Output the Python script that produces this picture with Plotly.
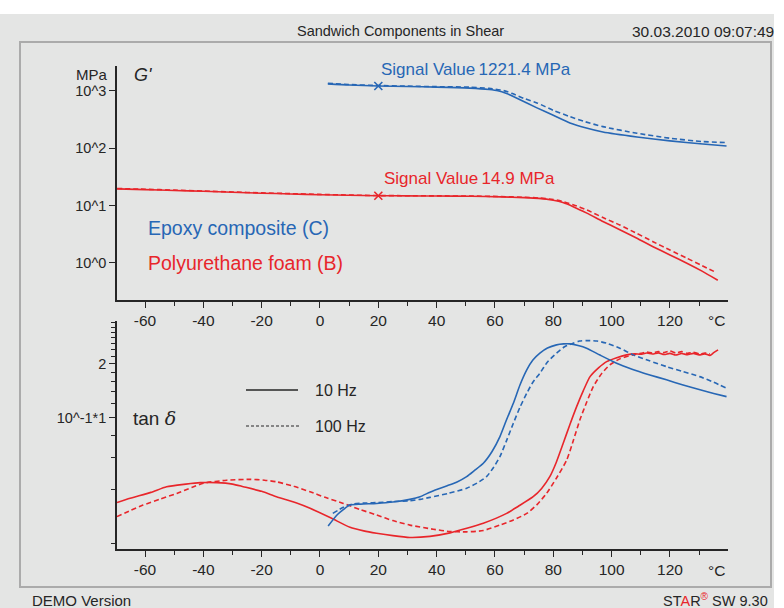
import plotly.graph_objects as go

# ---------------------------------------------------------------- data
# Storage modulus G' [MPa] versus temperature [°C]
t_g_epoxy_10 = [2.7, 10, 20, 30, 40, 51.4, 58, 61, 64, 67, 74.4, 80, 85.7, 91, 97, 108.7, 120, 131.3, 139.4]
g_epoxy_10 = [1330, 1270, 1221.4, 1195, 1170, 1120, 1060, 1010, 900, 770, 507, 376, 277, 228, 193, 158, 135, 119, 110]
t_g_epoxy_100 = [2.7, 10, 20, 30, 40, 51.4, 58, 63, 66, 70, 74.4, 80, 85.7, 91, 97, 108.7, 120, 131.3, 139.4]
g_epoxy_100 = [1360, 1295, 1245, 1215, 1190, 1165, 1110, 1016, 900, 740, 620, 460, 357, 290, 239, 183, 150, 131, 126]

t_g_foam_10 = [-69.6, -60, -50, -40, -30, -20, -10, 0, 10, 20, 30, 40, 52, 62, 70, 75, 80, 83.3, 87, 91.5,
               97, 102.8, 108, 114.2, 120, 125.8, 131, 136.4]
g_foam_10 = [19.6, 19.0, 18.4, 17.8, 17.1, 16.5, 16.0, 15.5, 15.2, 14.9, 14.8, 14.7, 14.6, 14.2, 13.8, 13.4,
             12.4, 11.3, 9.5, 7.4, 5.3, 3.8, 2.8, 1.92, 1.38, 0.99, 0.72, 0.50]
t_g_foam_100 = [-69.6, -60, -50, -40, -30, -20, -10, 0, 10, 20, 30, 40, 52, 62, 70, 75, 80, 83.3, 87, 91.5,
                97, 102.8, 108, 114.2, 120, 125.8, 131, 135.9]
g_foam_100 = [19.9, 19.3, 18.7, 18.0, 17.3, 16.7, 16.2, 15.7, 15.3, 15.0, 14.9, 14.8, 14.7, 14.4, 14.0, 13.6,
              12.8, 11.8, 10.3, 8.4, 6.2, 4.6, 3.4, 2.35, 1.68, 1.21, 0.90, 0.68]

# Signal values read at 20 °C
cursor_t = 20
cursor_epoxy = 1221.4
cursor_foam = 14.9

# Loss factor tan delta versus temperature
t_tan_foam_10 = [-69.6, -65.1, -58, -52.6, -46, -41.1, -35.4, -30, -26.3, -20, -14.9, -8, -3.4, 4.0, 10.3, 15,
                 19.4, 25, 30.8, 37.7, 44.6, 50, 56, 64, 68, 73.1, 76, 78.8, 81, 83.4, 85.7, 88, 90.3, 92.6,
                 95.5, 98.3, 101.5, 105.1, 108, 110, 112, 114, 116, 118, 120, 122, 124, 126, 128, 130, 132,
                 133.7, 135, 136.5]
tan_foam_10 = [0.0338, 0.0357, 0.0385, 0.0414, 0.0428, 0.0436, 0.0436, 0.0428, 0.0414, 0.0390, 0.0364, 0.0336,
               0.0314, 0.0276, 0.0246, 0.0235, 0.0228, 0.0221, 0.0216, 0.0219, 0.0229, 0.0242, 0.0259, 0.0294,
               0.0322, 0.0364, 0.0405, 0.0471, 0.0565, 0.0723, 0.0920, 0.1156, 0.1420, 0.1699, 0.1900, 0.2060,
               0.2160, 0.2245, 0.2275, 0.2262, 0.2298, 0.2270, 0.2305, 0.2255, 0.2290, 0.2240, 0.2285, 0.2250,
               0.2290, 0.2245, 0.2275, 0.2230, 0.2310, 0.2393]
t_tan_foam_100 = [-69.6, -65, -60.7, -55, -49.1, -44, -40, -32, -24, -19, -14.9, -9, -3.4, 2, 8, 14, 19.4, 25,
                  30.8, 38.8, 44.6, 50.3, 56, 61.7, 66.3, 70.9, 74.5, 77.7, 81, 84.6, 87, 89.1, 91.5, 93.7,
                  96.5, 99.4, 103, 107.4, 110, 112, 114, 116, 118, 120, 122, 124, 126, 128, 130.2, 132, 133.7]
tan_foam_100 = [0.0282, 0.0305, 0.0327, 0.0352, 0.0380, 0.0410, 0.0433, 0.0450, 0.0455, 0.0450, 0.0441, 0.0416,
                0.0388, 0.0360, 0.0334, 0.0308, 0.0288, 0.0268, 0.0253, 0.0240, 0.0233, 0.0232, 0.0236, 0.0253,
                0.0270, 0.0294, 0.0330, 0.0380, 0.0460, 0.0583, 0.0760, 0.0975, 0.1230, 0.1494, 0.1760, 0.1975,
                0.2140, 0.2245, 0.2290, 0.2330, 0.2300, 0.2345, 0.2310, 0.2360, 0.2300, 0.2340, 0.2290, 0.2320,
                0.2274, 0.2300, 0.2274]
t_tan_epoxy_10 = [2.8, 6, 10.3, 14, 19.4, 25, 30.8, 34.3, 37.7, 40.5, 43.4, 47, 50.3, 53, 56, 59, 61.7, 64,
                  66.3, 68.6, 70.9, 73, 75.4, 78, 81.1, 83.5, 85.7, 88.5, 91.4, 96, 101.7, 107, 113.1, 118.8,
                  124.5, 130, 135, 139.4]
tan_epoxy_10 = [0.0250, 0.0290, 0.0327, 0.0331, 0.0334, 0.0340, 0.0352, 0.0364, 0.0386, 0.0402, 0.0418, 0.0440,
                0.0471, 0.0510, 0.0559, 0.0650, 0.0787, 0.0980, 0.1207, 0.1530, 0.1852, 0.2100, 0.2295, 0.2450,
                0.2553, 0.2585, 0.2585, 0.2530, 0.2446, 0.2240, 0.2018, 0.1870, 0.1737, 0.1630, 0.1527, 0.1440,
                0.1370, 0.1314]
t_tan_epoxy_100 = [4.4, 8, 11.3, 16, 20, 25, 30.8, 34.3, 37.7, 44, 50.3, 54, 57.1, 59.5, 61.7, 64, 66.3, 68.6,
                   70.9, 73, 75.4, 78, 81.1, 84, 86.8, 89, 91.4, 95, 98.3, 103, 107.4, 113, 118.8, 124.5, 130.2,
                   135, 139.4]
tan_epoxy_100 = [0.0294, 0.0318, 0.0332, 0.0336, 0.0338, 0.0342, 0.0346, 0.0352, 0.0361, 0.0380, 0.0406, 0.0435,
                 0.0471, 0.0530, 0.0609, 0.0750, 0.0934, 0.1150, 0.1373, 0.1580, 0.1775, 0.2050, 0.2295, 0.2500,
                 0.2608, 0.2680, 0.2697, 0.2680, 0.2608, 0.2440, 0.2245, 0.2080, 0.1932, 0.1810, 0.1699, 0.1580,
                 0.1464]

# axis ticks
temp_ticks = [-60, -40, -20, 0, 20, 40, 60, 80, 100, 120]
temp_tick_text = ["-60", "-40", "-20", "0", "20", "40", "60", "80", "100", "120"]
g_ticks = [1, 10, 100, 1000]
g_tick_text = ["10^0", "10^1", "10^2", "10^3"]
tan_ticks = [0.1, 0.2]
tan_tick_text = ["10^-1*1", "2"]
tan_minor = [0.02, 0.04, 0.06, 0.08, 0.12, 0.14, 0.16, 0.18, 0.22, 0.24, 0.26, 0.28, 0.30, 0.32, 0.34]

# ---------------------------------------------------------------- style
W, H = 784, 608
BLUE = "#2767b5"
RED = "#e8262b"
INK = "#262626"
BG = "#e4e5e4"
FONT = "Liberation Sans, Arial, sans-serif"
DASH = "5px,3px"


def px(x):
    return x / W


def py(y):
    return 1 - y / H


fig = go.Figure()


def curve(x, y, color, dash, xa, ya):
    fig.add_trace(go.Scatter(x=x, y=y, mode="lines", xaxis=xa, yaxis=ya,
                             line=dict(color=color, width=1.6, dash=dash, shape="spline", smoothing=0.6),
                             hoverinfo="skip", showlegend=False))


# G' panel
curve(t_g_epoxy_100, g_epoxy_100, BLUE, DASH, "x", "y")
curve(t_g_epoxy_10, g_epoxy_10, BLUE, "solid", "x", "y")
curve(t_g_foam_100, g_foam_100, RED, DASH, "x", "y")
curve(t_g_foam_10, g_foam_10, RED, "solid", "x", "y")
for val, col in [(cursor_epoxy, BLUE), (cursor_foam, RED)]:
    fig.add_trace(go.Scatter(x=[cursor_t], y=[val], mode="markers", xaxis="x", yaxis="y",
                             marker=dict(symbol="x-thin-open", size=8, color=col,
                                         line=dict(color=col, width=1.6)),
                             hoverinfo="skip", showlegend=False))

# tan delta panel
curve(t_tan_foam_100, tan_foam_100, RED, DASH, "x2", "y2")
curve(t_tan_foam_10, tan_foam_10, RED, "solid", "x2", "y2")
curve(t_tan_epoxy_100, tan_epoxy_100, BLUE, DASH, "x2", "y2")
curve(t_tan_epoxy_10, tan_epoxy_10, BLUE, "solid", "x2", "y2")

x_range = [-69.6, 139.9]
x_dom = [px(117), px(728)]
x_tick_font = dict(family=FONT, size=15.5, color=INK)
y_tick_font = dict(family=FONT, size=14.5, color=INK)

xaxis_common = dict(range=x_range, domain=x_dom, showline=True, linecolor=INK, linewidth=1.6,
                    showgrid=False, zeroline=False, ticks="outside", ticklen=6, tickwidth=1.3,
                    tickcolor=INK, tickmode="array", tickvals=temp_ticks, ticktext=temp_tick_text,
                    tickfont=x_tick_font,
                    minor=dict(tickmode="linear", tick0=0, dtick=10, ticks="outside", ticklen=4,
                               tickwidth=1.3, tickcolor=INK, showgrid=False))

fig.update_layout(
    width=W, height=H, margin=dict(l=0, r=0, t=0, b=0),
    paper_bgcolor="white", plot_bgcolor="rgba(0,0,0,0)",
    font=dict(family=FONT, color=INK),
    xaxis=dict(anchor="y", **xaxis_common),
    xaxis2=dict(anchor="y2", **xaxis_common),
    yaxis=dict(type="log", range=[-0.646, 3.436], domain=[py(300), py(66)], anchor="x",
               showline=True, linecolor=INK, linewidth=1.6, showgrid=False, zeroline=False,
               ticks="outside", ticklen=6, tickwidth=1.3, tickcolor=INK, tickmode="array",
               tickvals=g_ticks, ticktext=g_tick_text, tickfont=y_tick_font),
    yaxis2=dict(type="log", range=[-1.730, -0.460], domain=[py(549), py(321)], anchor="x2",
                showline=True, linecolor=INK, linewidth=1.6, showgrid=False, zeroline=False,
                ticks="outside", ticklen=6, tickwidth=1.3, tickcolor=INK, tickmode="array",
                tickvals=tan_ticks, ticktext=tan_tick_text, tickfont=y_tick_font,
                minor=dict(tickmode="array", tickvals=tan_minor, ticks="outside", ticklen=4,
                           tickwidth=1.3, tickcolor=INK, showgrid=False)),
)

shapes = [
    # page background and frame
    dict(type="rect", xref="paper", yref="paper", x0=0, x1=px(774), y0=0, y1=py(14),
         fillcolor=BG, line=dict(width=0), layer="below"),
    dict(type="rect", xref="paper", yref="paper", x0=px(20), x1=px(771), y0=py(587), y1=py(42),
         fillcolor="rgba(0,0,0,0)", line=dict(color="#ababab", width=2), layer="below"),
    # line-style key
    dict(type="line", xref="paper", yref="paper", x0=px(246), x1=px(298), y0=py(390), y1=py(390),
         line=dict(color=INK, width=1.4)),
    dict(type="line", xref="paper", yref="paper", x0=px(246), x1=px(299), y0=py(426), y1=py(426),
         line=dict(color=INK, width=1.2, dash="3px,2px")),
]
fig.update_layout(shapes=shapes)


def note(text, x, y, size=14, color=INK, xanchor="left", family=FONT):
    fig.add_annotation(text=text, x=px(x), y=py(y), xref="paper", yref="paper", xanchor=xanchor,
                       yanchor="middle", showarrow=False, font=dict(family=family, size=size, color=color))


note("Sandwich Components in Shear", 400, 31, size=14.5, xanchor="center")
note("30.03.2010 09:07:49", 630, 31, size=15.5)
note("MPa", 110, 74, size=15, xanchor="right")
note("<i>G'</i>", 132, 75, size=18)
note("Signal Value\u20091221.4 MPa", 379, 69, size=17, color=BLUE)
note("Signal Value\u200914.9 MPa", 382, 178, size=17, color=RED)
note("Epoxy composite (C)", 146, 228, size=19.5, color=BLUE)
note("Polyurethane foam (B)", 146, 263, size=19.5, color=RED)
note("°C", 716, 320, size=15.5, xanchor="center")
note("°C", 716, 570, size=15.5, xanchor="center")
note("tan <span style=\"font-family:'DejaVu Serif', serif\"><i>δ</i></span>", 131, 418, size=19)
note("10 Hz", 313, 390, size=16)
note("100 Hz", 313, 426, size=16)
note("DEMO Version", 30, 600, size=15)
note("ST<span style='color:#e8262b'>A</span>R<sup style='color:#e8262b'>®</sup> SW 9.30", 770, 600,
     size=14.5, xanchor="right")

fig.write_html("out.html")
